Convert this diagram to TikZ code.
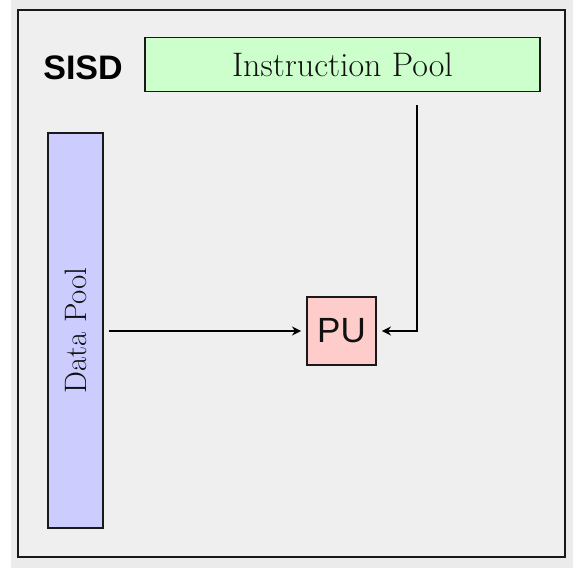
\documentclass[tikz,border=0pt]{standalone}
\usepackage{fontspec}
\newfontfamily\sansfont{Liberation Sans}
\usetikzlibrary{arrows.meta,calc}
\definecolor{outerbg}{HTML}{EBEBEB}
\definecolor{innerbg}{HTML}{EFEFEF}
\definecolor{ipgreen}{HTML}{CCFFCC}
\definecolor{dpblue}{HTML}{CCCCFF}
\definecolor{pupink}{HTML}{FFCCCC}
\definecolor{txt}{HTML}{111111}
\tikzset{
  pool/.style={draw=black!90, line width=1.9pt, inner sep=0pt, text=txt},
  arr/.style={draw=black, line width=1.5pt, -{Stealth[length=9pt,width=9pt]}},
}
\begin{document}
\begin{tikzpicture}[x=1pt,y=-1pt]
\useasboundingbox (0,0) rectangle (573,569);
\fill[white] (0,0) rectangle (573,569);
\fill[outerbg] (11,0) rectangle (573,568);
\draw[line width=1.9pt, draw=black!90, fill=innerbg] (18,10) rectangle (565,557);
\node[pool, fill=ipgreen, minimum width=395pt, minimum height=54pt,
      font=\fontsize{34}{37}\selectfont] (ip) at (342.5,64.5) {Instruction Pool};
\node[pool, fill=dpblue, minimum width=55pt, minimum height=395pt] (dp) at (75.5,330.5) {};
\node[text=txt, rotate=90, font=\fontsize{31}{34}\selectfont] (dpt) at (dp.center) {Data Pool};
\node[pool, fill=pupink, minimum width=69pt, minimum height=68pt,
      font=\sansfont\fontsize{35}{38}\selectfont] (pu) at (341.5,331) {PU};
\node[text=black, font=\sansfont\bfseries\fontsize{34}{38}\selectfont] (sisd) at (83,68) {SISD};
\draw[arr] ($(dp.east |- pu.center)+(5,0)$) -- ([xshift=-5pt]pu.west);
\draw[arr] ($(ip.south)+(74.5,13)$) |- ([xshift=5pt]pu.east);
\end{tikzpicture}
\end{document}
